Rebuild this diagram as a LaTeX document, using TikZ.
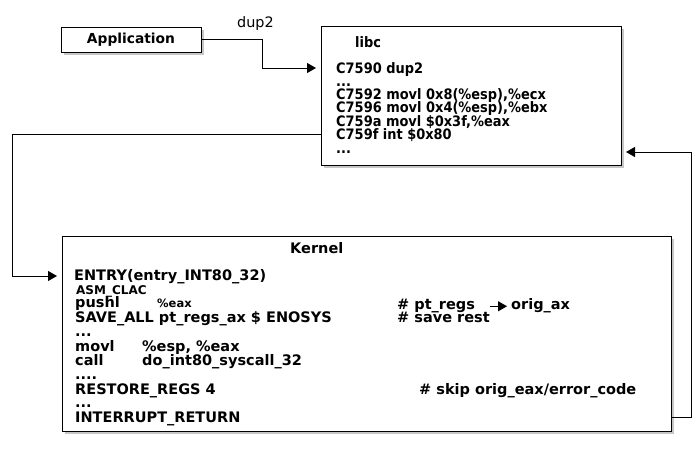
\documentclass[tikz,border=0pt]{standalone}
\usepackage{fontspec}
\setmainfont{DejaVu Sans}
\newfontfamily\libcfont{DejaVu Sans}[FakeStretch=0.9]
\usetikzlibrary{arrows.meta, positioning, shadows}

\begin{document}
\begin{tikzpicture}[x=1pt, y=-1pt,
   box/.style={draw, line width=1pt, fill=white, drop shadow={shadow xshift=2.5pt, shadow yshift=-2.5pt, opacity=0.45}},
   txt/.style={anchor=base west, inner sep=0pt, font=\libcfont\bfseries\fontsize{14.4}{14}\selectfont},
   ktxt/.style={txt, font=\bfseries\fontsize{14.5}{14}\selectfont},
   small/.style={txt, font=\bfseries\fontsize{11.5}{12}\selectfont},
   conn/.style={line width=1pt, -{Triangle[length=9pt, width=10pt]}, shorten >=5pt}]
 \useasboundingbox (0,0) rectangle (700,450);
 % boxes
 \node[box, minimum width=140pt, minimum height=25pt, font=\bfseries\fontsize{13.8}{14}\selectfont] (app) at (131,39.5) {Application};
 \node[box, minimum width=300pt, minimum height=139pt] (libc) at (471,95.5) {};
 \node[box, minimum width=609pt, minimum height=195pt] (kernel) at (366.5,333.5) {};
 % libc
 \node[txt] (lt) at (355,47.5) {libc};
 \node[txt] (lc1) at (336,73) {C7590 dup2};
 \node[txt] (lc2) at (336,86) {...};
 \node[txt] (lc3) at (336,99.5) {C7592 movl 0x8(\%esp),\%ecx};
 \node[txt] (lc4) at (336,112.5) {C7596 movl 0x4(\%esp),\%ebx};
 \node[txt] (lc5) at (336,126) {C759a movl \$0x3f,\%eax};
 \node[txt] (lc6) at (336,139.5) {C759f int \$0x80};
 \node[txt] (lc7) at (336,153) {...};
 % kernel
 \node[ktxt] (kt) at (290,253) {Kernel};
 \node[ktxt] (k1) at (74,280) {ENTRY(entry\_INT80\_32)};
 \node[small, font=\bfseries\fontsize{12}{12}\selectfont] (k2) at (76,294) {ASM\_CLAC};
 \node[ktxt] (k3) at (75,307) {pushl};
 \node[small] (k3a) at (157,307) {\%eax};
 \node[ktxt] (k4) at (75,322) {SAVE\_ALL pt\_regs\_ax \$ ENOSYS};
 \node[ktxt] (k5) at (75,336) {...};
 \node[ktxt] (k6) at (75,351) {movl};
 \node[ktxt] (k6a) at (142,351) {\%esp, \%eax};
 \node[ktxt] (k7) at (75,365) {call};
 \node[ktxt] (k7a) at (142,365) {do\_int80\_syscall\_32};
 \node[ktxt] (k8) at (75,379) {....};
 \node[ktxt] (k9) at (75,394) {RESTORE\_REGS 4};
 \node[ktxt] (k10) at (75,407) {...};
 \node[ktxt] (k11) at (75,422) {INTERRUPT\_RETURN};
 \node[ktxt] (c1) at (397,309) {\# pt\_regs};
 \node[ktxt] (c1a) at (511,309) {orig\_ax};
 \node[ktxt] (c2) at (397,322) {\# save rest};
 \node[ktxt] (c3) at (419,394) {\# skip orig\_eax/error\_code};
 \draw[conn, shorten <=15pt, shorten >=4pt] (c1.mid east) -- (c1a.mid west);
 % connectors
 \node[txt, font=\fontsize{14.4}{14}\selectfont] (dup) at (237,27) {dup2};
 \coordinate (bendA) at (262,68);
 \coordinate (inA) at (321,68);
 \draw[conn] (app.east) -| (bendA) -- (inA);
 \coordinate (outB) at (321,134);
 \coordinate (sideL) at (12,200);
 \coordinate (inB) at (62,276);
 \draw[conn] (outB) -- (outB -| sideL) |- (inB);
 \coordinate (outC) at (671,417);
 \coordinate (sideR) at (691,300);
 \coordinate (inC) at (621,152);
 \draw[conn] (outC) -- (outC -| sideR) |- (inC);
\end{tikzpicture}
\end{document}
